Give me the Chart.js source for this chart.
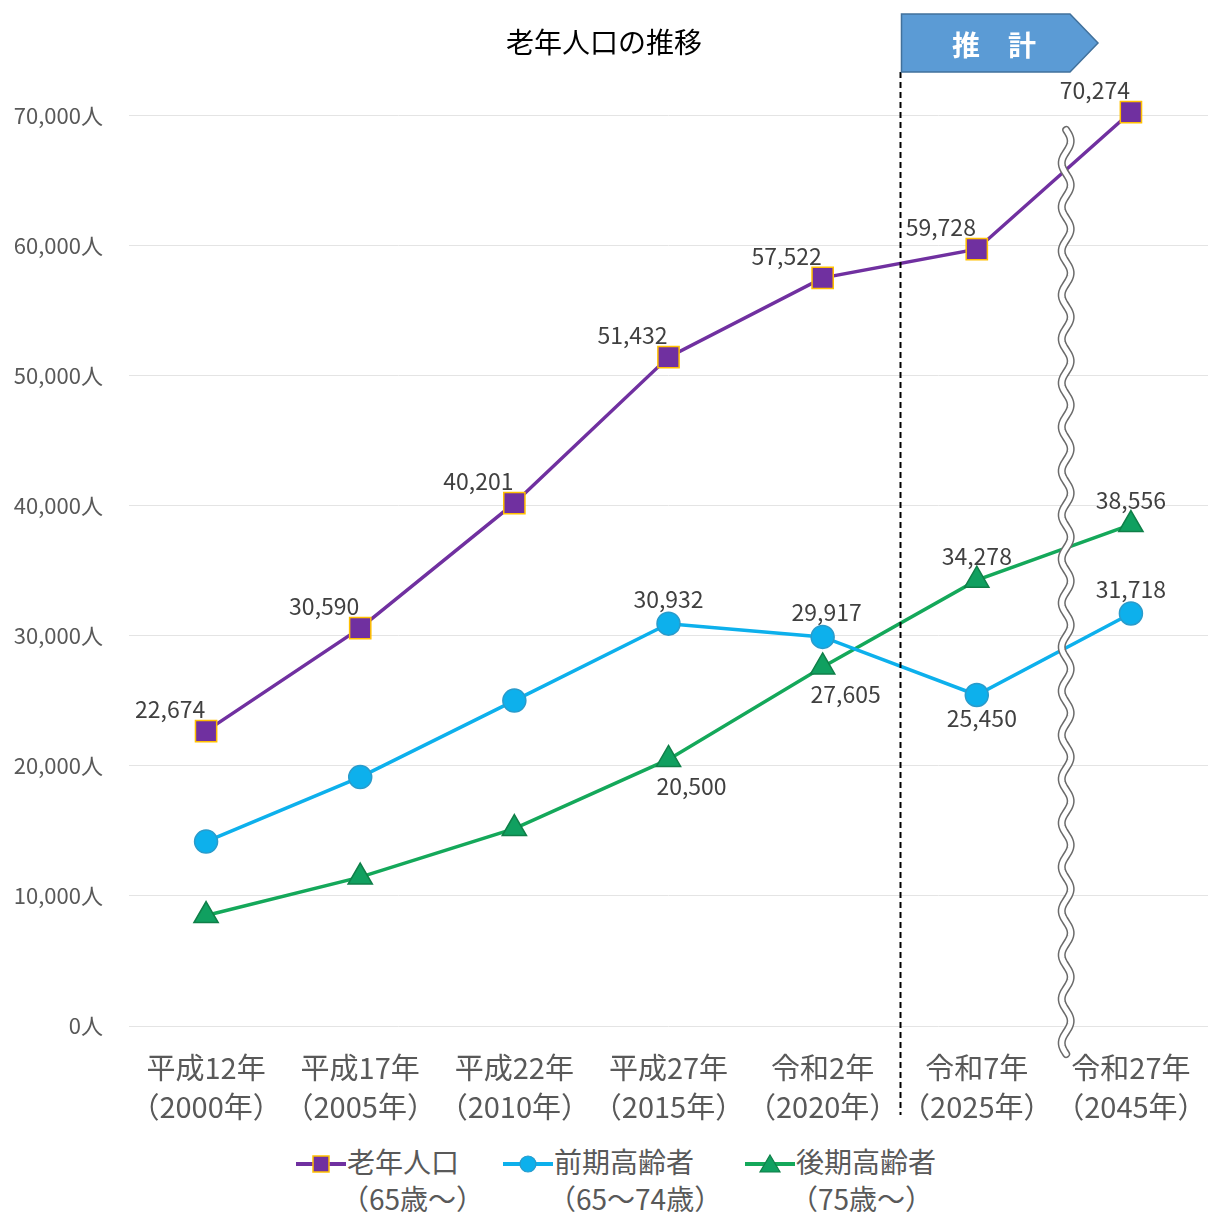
<!DOCTYPE html>
<html lang="ja">
<head>
<meta charset="utf-8">
<title>老年人口の推移</title>
<script src="https://cdn.jsdelivr.net/npm/chart.js@4.4.1/dist/chart.umd.min.js"></script>
<style>
  html, body { margin: 0; padding: 0; background: #fff; }
  #wrap { position: relative; width: 1208px; height: 1217px; overflow: hidden; }
  #chart { position: absolute; left: 0; top: 0; }
  #legend {
    position: absolute; left: 0; top: 1143px; width: 1208px; height: 80px;
    font-family: "Noto Sans CJK JP", sans-serif; font-size: 28px; color: #595959;
  }
  .item { position: absolute; top: 0; display: flex; align-items: flex-start; }
  .item svg { margin-top: 10px; margin-right: 1px; }
  .txt { line-height: 37px; }
  .txt .sub { margin-left: -6px; }
</style>
</head>
<body>
<div id="wrap">
  <canvas id="chart" width="1208" height="1140"></canvas>
  <div id="legend"></div>
</div>
<script>
// Categories (two-line tick labels)
const years = [
  ['平成12年', '（2000年）'],
  ['平成17年', '（2005年）'],
  ['平成22年', '（2010年）'],
  ['平成27年', '（2015年）'],
  ['令和2年', '（2020年）'],
  ['令和7年', '（2025年）'],
  ['令和27年', '（2045年）']
];

// Series values
const elderly = [22674, 30590, 40201, 51432, 57522, 59728, 70274];   // 老年人口
const early   = [14180, 19140, 25020, 30932, 29917, 25450, 31718];   // 前期高齢者
const late    = [8494, 11450, 15181, 20500, 27605, 34278, 38556];    // 後期高齢者

// Which points carry a value label, and where
const elderlyLabels = ['aboveLeft', 'aboveLeft', 'aboveLeft', 'aboveLeft', 'aboveLeft', 'aboveLeft', 'aboveLeft'];
const earlyLabels   = [null, null, null, 'above', 'aboveRight', 'belowRight', 'above'];
const lateLabels    = [null, null, null, 'belowRight2', 'belowRight2', 'above', 'above'];

// Legend texts
const seriesNames = ['老年人口', '前期高齢者', '後期高齢者'];
const seriesSub   = ['（65歳～）', '（65～74歳）', '（75歳～）'];

// Y ticks
const yMax = 70000;
const yStep = 10000;

const FONT = '"Noto Sans CJK JP", "Noto Sans", sans-serif';
const colors = {
  elderly: '#7030A0',
  early: '#0DB0EC',
  late: '#14A85A'
};

const labelOffsets = {
  aboveLeft:   [-36, -22],
  above:       [0, -24],
  aboveRight:  [4, -25],
  belowRight:  [5, 23],
  belowRight2: [23, 27]
};

// Dashed divider, "推計" arrow, wave break and value labels
const overlayPlugin = {
  id: 'overlay',
  afterDatasetsDraw(chart) {
    const ctx = chart.ctx;
    const xs = chart.scales.x;

    // wavy break between 2025 and 2045
    const wx = xs.getPixelForValue(5.58);
    ctx.save();
    ctx.beginPath();
    for (let y = 130; y <= 1055; y += 2) {
      const x = wx + 4.5 * Math.sin((y - 130) / 44 * Math.PI * 2);
      if (y === 130) ctx.moveTo(x, y); else ctx.lineTo(x, y);
    }
    ctx.lineCap = 'round';
    ctx.strokeStyle = '#6b6b6b';
    ctx.lineWidth = 8;
    ctx.stroke();
    ctx.strokeStyle = '#ffffff';
    ctx.lineWidth = 5;
    ctx.stroke();
    ctx.restore();

    // value labels
    ctx.save();
    ctx.font = '23px ' + FONT;
    ctx.fillStyle = '#404040';
    ctx.textAlign = 'center';
    ctx.textBaseline = 'middle';
    chart.data.datasets.forEach((ds, i) => {
      const meta = chart.getDatasetMeta(i);
      meta.data.forEach((pt, j) => {
        const pos = ds.valueLabels[j];
        if (!pos) return;
        const off = labelOffsets[pos];
        ctx.fillText(ds.data[j].toLocaleString('en-US'), pt.x + off[0], pt.y + off[1]);
      });
    });
    ctx.restore();
  },
  afterDraw(chart) {
    const ctx = chart.ctx;
    const xs = chart.scales.x;
    const dx = Math.round(xs.getPixelForValue(4.5)) + 0.5;

    ctx.save();
    ctx.setLineDash([6, 4]);
    ctx.strokeStyle = '#000';
    ctx.lineWidth = 2;
    ctx.beginPath();
    ctx.moveTo(dx, 72);
    ctx.lineTo(dx, 1115);
    ctx.stroke();
    ctx.restore();

    // arrow box
    const l = dx + 1, t = 14, b = 72, r = 1070, tip = 1098;
    ctx.save();
    ctx.beginPath();
    ctx.moveTo(l, t);
    ctx.lineTo(r, t);
    ctx.lineTo(tip, (t + b) / 2);
    ctx.lineTo(r, b);
    ctx.lineTo(l, b);
    ctx.closePath();
    ctx.fillStyle = '#5B9BD5';
    ctx.fill();
    ctx.strokeStyle = '#41719C';
    ctx.lineWidth = 1.5;
    ctx.stroke();
    ctx.fillStyle = '#fff';
    ctx.font = 'bold 28px ' + FONT;
    ctx.textAlign = 'center';
    ctx.textBaseline = 'middle';
    ctx.fillText('推　計', 994, 45);
    ctx.restore();
  }
};

const ctx = document.getElementById('chart').getContext('2d');
const chart = new Chart(ctx, {
  type: 'line',
  data: {
    labels: years,
    datasets: [
      {
        label: seriesNames[0],
        data: elderly,
        valueLabels: elderlyLabels,
        borderColor: colors.elderly,
        backgroundColor: colors.elderly,
        borderWidth: 3.5,
        pointStyle: 'rect',
        pointRadius: 15,
        pointBackgroundColor: colors.elderly,
        pointBorderColor: '#FFC000',
        pointBorderWidth: 1.5,
        clip: false
      },
      {
        label: seriesNames[1],
        data: early,
        valueLabels: earlyLabels,
        borderColor: colors.early,
        backgroundColor: colors.early,
        borderWidth: 3.5,
        pointStyle: 'circle',
        pointRadius: 11.5,
        pointBackgroundColor: colors.early,
        pointBorderColor: '#2A9BCB',
        pointBorderWidth: 1.5,
        clip: false
      },
      {
        label: seriesNames[2],
        data: late,
        valueLabels: lateLabels,
        borderColor: colors.late,
        backgroundColor: colors.late,
        borderWidth: 3.5,
        pointStyle: 'triangle',
        pointRadius: 14,
        pointBackgroundColor: '#10A060',
        pointBorderColor: '#0F7F48',
        pointBorderWidth: 1.5,
        clip: false
      }
    ]
  },
  options: {
    responsive: false,
    animation: false,
    layout: { padding: 0, autoPadding: false },
    plugins: {
      legend: { display: false },
      tooltip: { enabled: false },
      title: {
        display: true,
        text: '老年人口の推移',
        color: '#000',
        font: { family: FONT, size: 28, weight: 'normal', lineHeight: 1.2 },
        padding: { top: 26, bottom: 56 }
      }
    },
    scales: {
      x: {
        offset: true,
        grid: { display: false },
        border: { display: false },
        ticks: {
          color: '#595959',
          font: { family: FONT, size: 29, lineHeight: 1.35 },
          padding: 14,
          maxRotation: 0,
          autoSkip: false
        },
        afterFit(scale) {
          scale.height = 114;
          scale.paddingLeft = 0;
          scale.paddingRight = 0;
        }
      },
      y: {
        min: 0,
        max: yMax,
        grid: { color: '#e4e4e4', lineWidth: 1, drawTicks: false },
        border: { display: false },
        ticks: {
          stepSize: yStep,
          color: '#595959',
          font: { family: FONT, size: 22 },
          padding: 26,
          callback: v => v.toLocaleString('en-US') + '人'
        },
        afterFit(scale) { scale.width = 129; }
      }
    }
  },
  plugins: [overlayPlugin]
});

// HTML legend with line + marker icons
const legendLeft = [296, 503, 745];
const markerSvg = [
  '<rect x="17" y="3" width="16" height="16" fill="#7030A0" stroke="#FFC000" stroke-width="1.5"/>',
  '<circle cx="25" cy="11" r="8" fill="#0DB0EC" stroke="#2A9BCB" stroke-width="1.2"/>',
  '<polygon points="25,2 35,19 15,19" fill="#10A060" stroke="#0F7F48" stroke-width="1.2"/>'
];
const legendColors = [colors.elderly, colors.early, colors.late];
const legendEl = document.getElementById('legend');
seriesNames.forEach((name, i) => {
  const item = document.createElement('div');
  item.className = 'item';
  item.style.left = legendLeft[i] + 'px';
  item.innerHTML =
    '<svg width="50" height="22"><line x1="0" y1="11" x2="50" y2="11" stroke="' + legendColors[i] + '" stroke-width="4"/>' +
    markerSvg[i] + '</svg>' +
    '<div class="txt"><div>' + name + '</div><div class="sub">' + seriesSub[i] + '</div></div>';
  legendEl.appendChild(item);
});
</script>
</body>
</html>
